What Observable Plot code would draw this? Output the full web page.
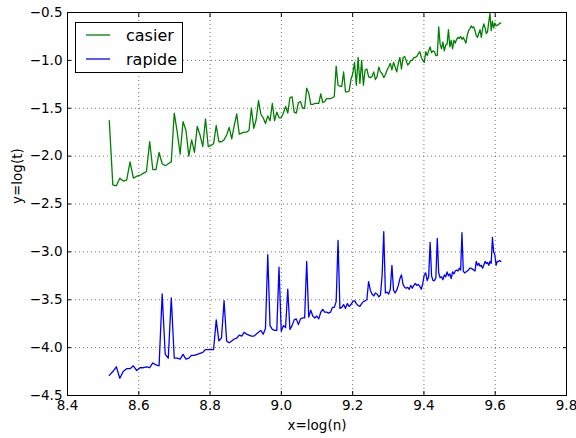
<!DOCTYPE html>
<html><head><meta charset="utf-8">
<script src="https://cdn.jsdelivr.net/npm/d3@7"></script>
<script src="https://cdn.jsdelivr.net/npm/@observablehq/plot@0.6"></script>
<style>
html,body{margin:0;padding:0;background:#fff;}
#wrap{position:relative;width:576px;height:438px;}
#legend{position:absolute;left:75px;top:22px;width:106px;height:49px;border:1px solid #000;background:#fff;font-family:"DejaVu Sans";font-size:16px;color:#000;}
.item{position:absolute;left:10px;height:22px;display:flex;align-items:center;white-space:nowrap;}
.item svg{margin-right:16px;display:block;}
</style></head><body><div id="wrap"></div>
<script>
const n = [
5000,5050,5100,5150,5200,5250,5300,5350,5400,5450,5500,5550,5600,5650,5700,5750,5800,5850,5900,5950,
6000,6050,6100,6150,6200,6250,6300,6350,6400,6450,6500,6550,6600,6650,6700,6750,6800,6850,6900,6950,
7000,7050,7100,7150,7200,7250,7300,7350,7400,7450,7500,7550,7600,7650,7700,7750,7800,7850,7900,7950,
8000,8050,8100,8150,8200,8250,8300,8350,8400,8450,8500,8550,8600,8650,8700,8750,8800,8850,8900,8950,
9000,9050,9100,9150,9200,9250,9300,9350,9400,9450,9500,9550,9600,9650,9700,9750,9800,9850,9900,9950,
10000,10050,10100,10150,10200,10250,10300,10350,10400,10450,10500,10550,10600,10650,10700,10750,10800,10850,10900,10950,
11000,11050,11100,11150,11200,11250,11300,11350,11400,11450,11500,11550,11600,11650,11700,11750,11800,11850,11900,11950,
12000,12050,12100,12150,12200,12250,12300,12350,12400,12450,12500,12550,12600,12650,12700,12750,12800,12850,12900,12950,
13000,13050,13100,13150,13200,13250,13300,13350,13400,13450,13500,13550,13600,13650,13700,13750,13800,13850,13900,13950,
14000,14050,14100,14150,14200,14250,14300,14350,14400,14450,14500,14550,14600,14650,14700,14750,14800,14850,14900,14950,
15000];

const casier = [
-1.63,-2.30,-2.31,-2.23,-2.26,-2.25,-2.06,-2.23,-2.21,-2.20,
-2.18,-2.16,-1.85,-2.14,-2.14,-1.96,-2.08,-2.10,-2.08,-2.06,
-1.55,-1.75,-1.98,-1.64,-1.73,-2.00,-1.83,-1.96,-1.69,-1.78,
-1.90,-1.61,-1.90,-1.89,-1.87,-1.68,-1.85,-1.85,-1.83,-1.78,
-1.70,-1.82,-1.68,-1.56,-1.77,-1.76,-1.75,-1.75,-1.73,-1.50,
-1.71,-1.62,-1.42,-1.56,-1.60,-1.66,-1.58,-1.63,-1.45,-1.63,
-1.54,-1.60,-1.60,-1.55,-1.48,-1.55,-1.39,-1.38,-1.54,-1.55,
-1.44,-1.43,-1.50,-1.50,-1.29,-1.34,-1.46,-1.46,-1.45,-1.45,
-1.45,-1.35,-1.44,-1.43,-1.40,
-1.40,-1.40,-1.39,-1.38,-1.06,-1.26,-1.27,-1.27,-1.12,-1.33,
-1.33,-1.32,-1.20,-1.14,-1.02,-1.26,-0.97,-1.24,-1.00,-1.26,
-1.10,-1.09,-1.17,-1.18,-1.17,-1.12,-1.20,-1.17,-1.07,-1.12,
-1.14,-1.18,-1.15,-1.10,-1.07,-1.03,-1.10,-1.02,-1.07,-1.12,
-1.03,-0.97,-1.09,-0.97,-0.96,-1.00,-1.05,-1.03,-1.00,-1.00,
-0.97,-0.97,-0.96,-0.93,-0.91,-0.97,-1.00,-1.02,-0.91,-0.95,
-0.90,-0.86,-0.92,-0.90,-0.91,-0.95,-0.95,-0.65,-0.83,-0.88,
-0.81,-0.90,-0.84,-0.83,-0.68,-0.86,-0.79,-0.88,-0.79,-0.82,
-0.78,-0.76,-0.77,-0.75,-0.78,-0.76,
-0.79,-0.82,-0.74,-0.69,-0.67,-0.64,-0.66,-0.65,-0.69,-0.74,
-0.76,-0.72,-0.68,-0.76,-0.67,-0.62,-0.66,-0.72,-0.70,-0.60,
-0.51,-0.69,-0.59,-0.66,-0.61,-0.64,-0.63,-0.63,-0.61,-0.61];

const rapide = [
-4.29,-4.25,-4.20,-4.32,-4.25,-4.22,-4.22,-4.19,-4.24,-4.21,
-4.21,-4.20,-4.21,-4.16,-4.18,-4.19,-3.44,-4.07,-4.11,-3.48,
-4.11,-4.11,-4.12,-4.07,-4.12,-4.11,-4.08,-4.08,-4.07,-4.06,
-4.05,-4.02,-4.02,-4.02,-4.02,-3.71,-3.93,-3.90,-3.51,-3.93,
-3.95,-3.93,-3.91,-3.90,-3.87,-3.88,-3.84,-3.86,-3.87,-3.88,
-3.88,-3.86,-3.84,-3.82,-3.86,-3.80,-3.03,-3.77,-3.81,-3.82,
-3.82,-3.16,-3.83,-3.77,-3.79,-3.39,-3.81,-3.77,-3.71,-3.70,
-3.76,-3.70,-3.69,-3.69,-3.10,-3.68,-3.61,-3.67,-3.69,-3.67,
-3.70,-3.63,-3.60,-3.63,-3.63,
-3.64,-3.63,-3.58,-3.58,-3.52,-2.88,-3.59,-3.58,-3.55,-3.59,
-3.54,-3.57,-3.55,-3.52,-3.51,-3.54,-3.56,-3.57,-3.54,-3.52,
-3.51,-3.50,-3.31,-3.40,-3.44,-3.46,-3.43,-3.44,-3.47,-3.45,
-3.25,-2.79,-3.43,-3.42,-3.44,-3.39,-3.14,-3.40,-3.43,-3.40,
-3.35,-3.28,-3.24,-3.34,-3.37,-3.38,-3.37,-3.39,-3.35,-3.38,
-3.35,-3.33,-3.35,-3.34,-3.36,-3.39,-3.33,-3.24,-3.22,-3.30,
-3.26,-2.90,-3.25,-3.30,-3.30,-3.27,-2.86,-3.22,-3.27,-3.26,
-3.29,-3.24,-3.26,-3.21,-3.25,-3.23,-3.28,-3.21,-3.23,-3.20,
-3.19,-3.20,-3.17,-3.19,-2.80,-3.20,
-3.22,-3.21,-3.20,-3.19,-3.17,-3.17,-3.18,-3.19,-3.20,-3.10,
-3.14,-3.12,-3.15,-3.14,-3.17,-3.14,-3.10,-3.12,-3.11,-3.14,
-3.10,-3.12,-2.85,-3.00,-3.03,-3.14,-3.10,-3.10,-3.09,-3.10];

const xTicks = [8.4, 8.6, 8.8, 9.0, 9.2, 9.4, 9.6, 9.8];
const yTicks = [-4.5, -4.0, -3.5, -3.0, -2.5, -2.0, -1.5, -1.0, -0.5];
const seriesNames = ["casier", "rapide"];
const seriesColors = ["#008000", "#0000ff"];
const xLabel = "x=log(n)";
const yLabel = "y=log(t)";

const data = [];
seriesNames.forEach((s, k) => {
  const vals = k === 0 ? casier : rapide;
  n.forEach((v, i) => data.push({x: Math.log(v), y: vals[i], s}));
});
const fmt = d => d.toFixed(1).replace("-", "\u2212");
const none = () => "";
const grid = {stroke: "#000", strokeOpacity: 0.55, strokeDasharray: "1,3"};

const chart = Plot.plot({
  width: 576, height: 438,
  marginLeft: 67, marginRight: 10, marginTop: 12, marginBottom: 43,
  style: {fontFamily: "DejaVu Sans", fontSize: "13.5px", background: "#fff", color: "#000", overflow: "visible"},
  x: {domain: [8.4, 9.8]},
  y: {domain: [-4.5, -0.5]},
  color: {domain: seriesNames, range: seriesColors},
  marks: [
    Plot.gridX(xTicks, grid),
    Plot.gridY(yTicks, grid),
    Plot.line(data, {x: "x", y: "y", z: "s", stroke: "s", strokeWidth: 1.3}),
    Plot.axisX(xTicks, {tickSize: 0, tickPadding: 5, tickFormat: fmt, label: null, fontSize: 13.5}),
    Plot.axisY(yTicks, {tickSize: 0, tickPadding: 5, tickFormat: fmt, label: null, fontSize: 13.5}),
    Plot.axisX(xTicks, {tickSize: -4, tickFormat: none, label: null}),
    Plot.axisX(xTicks, {anchor: "top", tickSize: -4, tickFormat: none, label: null}),
    Plot.axisY(yTicks, {tickSize: -4, tickFormat: none, label: null}),
    Plot.axisY(yTicks, {anchor: "right", tickSize: -4, tickFormat: none, label: null}),
    Plot.frame({stroke: "#000", strokeWidth: 1}),
    Plot.text([xLabel], {text: d => d, frameAnchor: "bottom", dy: 34, fontSize: 13.5}),
    Plot.text([yLabel], {text: d => d, frameAnchor: "left", dx: -50, rotate: -90, fontSize: 13.5})
  ]
});
const wrap = document.getElementById("wrap");
wrap.appendChild(chart);

const legend = document.createElement("div");
legend.id = "legend";
const NS = "http://www.w3.org/2000/svg";
seriesNames.forEach((s, k) => {
  const item = document.createElement("div");
  item.className = "item";
  item.style.top = (1 + 24 * k) + "px";
  const sv = document.createElementNS(NS, "svg");
  sv.setAttribute("width", "24");
  sv.setAttribute("height", "4");
  const ln = document.createElementNS(NS, "line");
  ln.setAttribute("x1", "0"); ln.setAttribute("x2", "24");
  ln.setAttribute("y1", "2"); ln.setAttribute("y2", "2");
  ln.setAttribute("stroke", seriesColors[k]);
  ln.setAttribute("stroke-width", "1.3");
  sv.appendChild(ln);
  item.appendChild(sv);
  item.appendChild(document.createTextNode(s));
  legend.appendChild(item);
});
wrap.appendChild(legend);
</script></body></html>
